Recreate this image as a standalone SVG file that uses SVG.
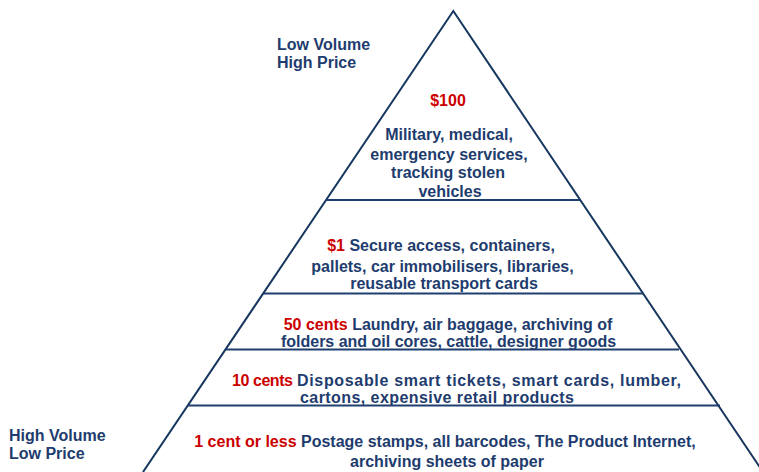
<svg xmlns="http://www.w3.org/2000/svg" width="759" height="472" viewBox="0 0 759 472">
  <style>
    text { font-family: "Liberation Sans", Arial, sans-serif; font-weight: bold; font-size: 16px; fill: #1e3c6e; }
    .c { text-anchor: middle; }
    .price { fill: #cc0000; }
    .edge { fill: none; stroke: #17375e; stroke-width: 2; }
    .tier { stroke: #1f3f6f; stroke-width: 2.2; }
  </style>
  <rect width="759" height="472" fill="#ffffff"/>

  <!-- pyramid outline and tier dividers -->
  <g id="connectors">
    <polyline class="edge" points="143,472 453.3,11 763,472"/>
    <line class="tier" x1="326" y1="200" x2="580" y2="200"/>
    <line class="tier" x1="263" y1="293.5" x2="643" y2="293.5"/>
    <line class="tier" x1="226" y1="349.5" x2="679" y2="349.5"/>
    <line class="tier" x1="188" y1="405.5" x2="720" y2="405.5"/>
  </g>

  <!-- axis captions -->
  <g id="label-top">
    <text x="277" y="50">Low Volume</text>
    <text x="277" y="68">High Price</text>
  </g>
  <g id="label-bottom">
    <text x="9" y="441">High Volume</text>
    <text x="9" y="459">Low Price</text>
  </g>

  <!-- tier 1: $100 -->
  <g id="tier-100">
    <text class="c price" x="448" y="106">$100</text>
    <text class="c" x="449" y="140">Military, medical,</text>
    <text class="c" x="449" y="160">emergency services,</text>
    <text class="c" x="448" y="178">tracking stolen</text>
    <text class="c" x="450" y="197">vehicles</text>
  </g>

  <!-- tier 2: $1 -->
  <g id="tier-1-dollar">
    <text class="c" x="441" y="251"><tspan class="price">$1</tspan> Secure access, containers,</text>
    <text class="c" x="442.5" y="272">pallets, car immobilisers, libraries,</text>
    <text class="c" x="444" y="288.5">reusable transport cards</text>
  </g>

  <!-- tier 3: 50 cents -->
  <g id="tier-50-cents">
    <text class="c" x="448" y="330"><tspan class="price">50 cents</tspan> Laundry, air baggage, archiving of</text>
    <text class="c" x="448.5" y="346.5">folders and oil cores, cattle, designer goods</text>
  </g>

  <!-- tier 4: 10 cents (slightly wider set) -->
  <g id="tier-10-cents">
    <text class="price" x="232" y="386" textLength="61">10 cents</text>
    <text x="297" y="386" font-size="16.8" textLength="384">Disposable smart tickets, smart cards, lumber,</text>
    <text x="300" y="403" font-size="16.8" textLength="274">cartons, expensive retail products</text>
  </g>

  <!-- tier 5: 1 cent or less -->
  <g id="tier-1-cent">
    <text class="c" x="445" y="447"><tspan class="price">1 cent or less</tspan> Postage stamps, all barcodes, The Product Internet,</text>
    <text class="c" x="447" y="467">archiving sheets of paper</text>
  </g>
</svg>
